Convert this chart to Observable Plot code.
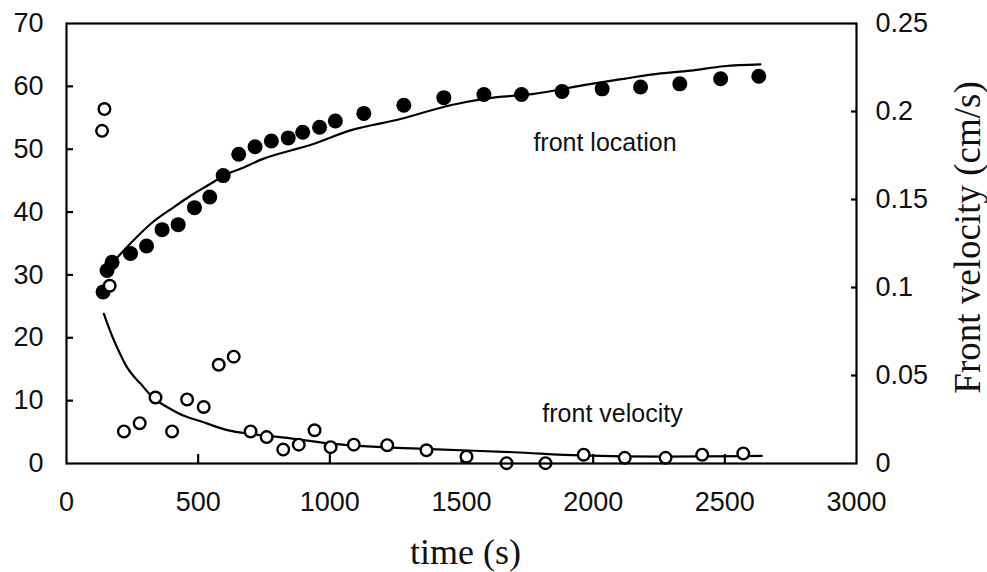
<!DOCTYPE html>
<html>
<head>
<meta charset="utf-8">
<script src="https://cdn.jsdelivr.net/npm/d3@7"></script>
<script src="https://cdn.jsdelivr.net/npm/@observablehq/plot@0.6"></script>
<style>
  html, body { margin: 0; padding: 0; background: #fff; }
</style>
</head>
<body>
<div id="chart"></div>
<script>
// ---- data ----
const locTime  = [139,154,173,243,304,363,424,486,544,595,654,716,778,842,897,961,1021,1129,1281,1433,1585,1728,1882,2034,2180,2329,2484,2629];
const locValue = [27.3,30.7,32.0,33.4,34.6,37.2,38.0,40.7,42.4,45.8,49.2,50.4,51.3,51.8,52.7,53.5,54.5,55.7,57.0,58.2,58.7,58.7,59.2,59.6,59.9,60.4,61.2,61.6];

const locFitTime  = [165,243,319,408,471,547,597,661,749,851,920,1078,1268,1458,1598,1775,1964,2116,2243,2370,2496,2635];
const locFitValue = [31.5,35.0,38.1,40.8,42.6,44.5,45.8,46.9,48.5,49.8,50.6,53.0,54.8,57.0,58.1,58.8,60.2,61.2,62.0,62.5,63.2,63.5];

const velTime  = [135,144,164,218,278,338,401,458,521,578,635,699,760,823,882,942,1003,1091,1218,1367,1519,1671,1819,1964,2120,2275,2414,2570];
const velValue = [0.189,0.2014,0.101,0.0182,0.0229,0.0375,0.0182,0.0364,0.0321,0.0561,0.0607,0.0182,0.015,0.0079,0.0107,0.0189,0.0093,0.0107,0.0104,0.0075,0.0039,0.0002,0.0002,0.005,0.0032,0.0032,0.005,0.0057];

const velFitTime  = [142,160,180,205,230,255,281,310,344,395,446,509,610,711,851,1015,1382,1699,1952,2268,2640];
const velFitValue = [0.085,0.0775,0.070,0.0618,0.0546,0.0496,0.0454,0.0404,0.0357,0.0310,0.0271,0.0240,0.0190,0.0166,0.0143,0.0111,0.0082,0.0064,0.0046,0.0039,0.0043];

const xTicks = [0,500,1000,1500,2000,2500,3000];
const yTicks = [0,10,20,30,40,50,60,70];
const vTicks = [0,0.05,0.1,0.15,0.2,0.25];

const xDomain = [0,3000];
const yDomain = [0,70];
const vDomain = [0,0.25];
const k = yDomain[1] / vDomain[1]; // left units per cm/s

// ---- tables ----
const loc = locTime.map((t,i) => ({t, v: locValue[i]}));
const locFit = locFitTime.map((t,i) => ({t, v: locFitValue[i]}));
const vel = velTime.map((t,i) => ({t, v: velValue[i]}));
const velFit = velFitTime.map((t,i) => ({t, v: velFitValue[i]}));

const inner = a => a.slice(1, -1);
const blank = () => "";

const chart = Plot.plot({
  width: 987,
  height: 572,
  marginLeft: 66,
  marginRight: 131,
  marginTop: 23,
  marginBottom: 109,
  style: {fontFamily: "'Liberation Sans', Arial, sans-serif", fontSize: "27px", color: "#111", background: "#fff"},
  x: {domain: xDomain, label: null},
  y: {domain: yDomain, label: null},
  marks: [
    // tick labels
    Plot.axisX({ticks: xTicks, tickSize: 0, tickPadding: 28, tickFormat: d => String(d), label: null}),
    Plot.axisY({ticks: yTicks, tickSize: 0, tickPadding: 23, tickFormat: d => String(d), label: null}),
    Plot.axisY({anchor: "right", ticks: vTicks.map(v => v * k), tickSize: 0, tickPadding: 19,
                tickFormat: d => String(+(d / k).toFixed(2)), label: null}),
    // inward tick marks (outward ticks shifted back inside the frame)
    Plot.axisX({ticks: inner(xTicks), tickSize: 9, dy: -9, tickFormat: blank, label: null, strokeWidth: 2.2, stroke: "#000"}),
    Plot.axisY({ticks: inner(yTicks), tickSize: 7, dx: 7, tickFormat: blank, label: null, strokeWidth: 2.2, stroke: "#000"}),
    Plot.axisY({anchor: "right", ticks: inner(vTicks).map(v => v * k), tickSize: 6, dx: -6, tickFormat: blank, label: null, strokeWidth: 2.2, stroke: "#000"}),
    // curves
    Plot.line(locFit, {x: "t", y: "v", stroke: "#000", strokeWidth: 2.2, curve: "monotone-x"}),
    Plot.line(velFit, {x: "t", y: d => d.v * k, stroke: "#000", strokeWidth: 2.2, curve: "monotone-x"}),
    // points
    Plot.dot(loc, {x: "t", y: "v", r: 7.5, fill: "#000", stroke: "none"}),
    Plot.dot(vel, {x: "t", y: d => d.v * k, r: 5.8, fill: "#fff", stroke: "#000", strokeWidth: 2.4}),
    // frame
    Plot.frame({stroke: "#000", strokeWidth: 2.2}),
    // annotations
    Plot.text(["front location"], {x: 1773, y: 51.0, textAnchor: "start", fontSize: 25, fill: "#111"}),
    Plot.text(["front velocity"], {x: 1807, y: 7.84, textAnchor: "start", fontSize: 25, fill: "#111"}),
    // axis titles
    Plot.text(["time (s)"], {frameAnchor: "bottom", textAnchor: "middle", lineAnchor: "middle", dx: 4, dy: 89, fontSize: 36,
               fontFamily: "'Liberation Serif', 'Times New Roman', serif", fill: "#111"}),
    Plot.text(["Front velocity (cm/s)"], {frameAnchor: "right", textAnchor: "middle", lineAnchor: "middle",
               dx: 112, dy: -6, rotate: -90, fontSize: 37,
               fontFamily: "'Liberation Serif', 'Times New Roman', serif", fill: "#111"})
  ]
});
document.getElementById("chart").appendChild(chart);
</script>
</body>
</html>
